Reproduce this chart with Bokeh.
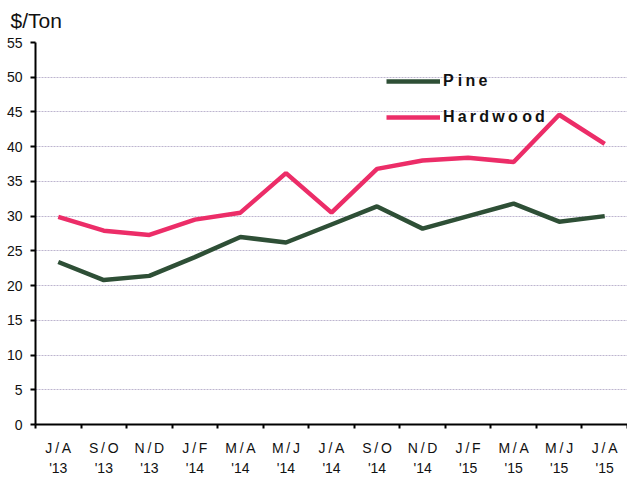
from bokeh.plotting import figure
from bokeh.models import FixedTicker, Range1d, Legend, LegendItem
from bokeh.embed import file_html
from bokeh.resources import INLINE

T = "\u2009"
categories = ["J/A\n'13", "S/O\n'13", "N/D\n'13", "J/F\n'14", "M/A\n'14", "M/J\n'14", "J/A\n'14",
              "S/O\n'14", "N/D\n'14", "J/F\n'15", "M/A\n'15", "M/J\n'15", "J/A\n'15"]
pine = [23.4, 20.8, 21.4, 24.1, 27.0, 26.2, 28.8, 31.4, 28.2, 30.0, 31.8, 29.2, 30.0]
hardwood = [29.9, 27.9, 27.3, 29.5, 30.5, 36.2, 30.5, 36.8, 38.0, 38.4, 37.8, 44.6, 40.4]
y_ticks = list(range(0, 56, 5))

xs = [i + 0.5 for i in range(len(categories))]

FONT = "Liberation Sans"

p = figure(width=627, height=478, output_backend="svg", toolbar_location=None,
           x_range=Range1d(0, len(categories)), y_range=Range1d(0, 55),
           min_border_left=35, min_border_right=0, min_border_top=42, min_border_bottom=40)
p.outline_line_color = None
p.background_fill_color = "white"

p.title.text = "$/Ton"
p.title.text_font = FONT
p.title.text_font_size = "21px"
p.title.text_font_style = "normal"
p.title.text_color = "#111111"
p.title.offset = -25
p.title.standoff = 17
p.title.vertical_align = "top"

# x axis
p.xaxis.ticker = FixedTicker(ticks=xs, minor_ticks=list(range(len(categories) + 1)))
p.xaxis.major_label_overrides = {x: c.replace("/", T + "/" + T) for x, c in zip(xs, categories)}
p.xaxis.major_tick_line_color = None
p.xaxis.minor_tick_line_color = "black"
p.xaxis.minor_tick_line_width = 2
p.xaxis.minor_tick_out = 4
p.xaxis.minor_tick_in = 0
p.xaxis.axis_line_width = 2
p.xaxis.axis_line_color = "black"
p.xaxis.major_label_text_font = FONT
p.xaxis.major_label_text_font_size = "14px"
p.xaxis.major_label_text_line_height = 1.25
p.xaxis.major_label_text_color = "#111111"
p.xaxis.major_label_standoff = 9

# y axis
p.yaxis.ticker = FixedTicker(ticks=y_ticks)
p.yaxis.minor_tick_line_color = None
p.yaxis.major_tick_out = 5
p.yaxis.major_tick_in = 0
p.yaxis.major_tick_line_width = 2
p.yaxis.axis_line_width = 2
p.yaxis.axis_line_color = "black"
p.yaxis.major_label_text_font = FONT
p.yaxis.major_label_text_font_size = "14px"
p.yaxis.major_label_text_color = "#111111"
p.yaxis.major_label_standoff = 8

p.xgrid.grid_line_color = None
p.ygrid.ticker = FixedTicker(ticks=y_ticks[1:])
p.ygrid.grid_line_color = "#bdb5cf"
p.ygrid.grid_line_dash = "2 1"
p.ygrid.grid_line_width = 1

r_pine = p.line(xs, pine, line_color="#2e4f36", line_width=4.5)
r_hard = p.line(xs, hardwood, line_color="#ec2d68", line_width=4.5)

legend = Legend(items=[LegendItem(label="P i" + T + "n" + T + "e", renderers=[r_pine]),
                       LegendItem(label=T.join("Hardwo") + " " + T.join("od"), renderers=[r_hard])],
                location=(351, 297), orientation="vertical")
legend.border_line_color = None
legend.background_fill_alpha = 0
legend.label_text_font = FONT
legend.label_text_font_style = "bold"
legend.label_text_font_size = "16px"
legend.label_text_color = "#111111"
legend.glyph_width = 54
legend.glyph_height = 20
legend.spacing = 16
legend.label_standoff = 3
legend.padding = 0
legend.margin = 0
p.add_layout(legend)

open("out.html", "w").write(file_html(p, INLINE))
